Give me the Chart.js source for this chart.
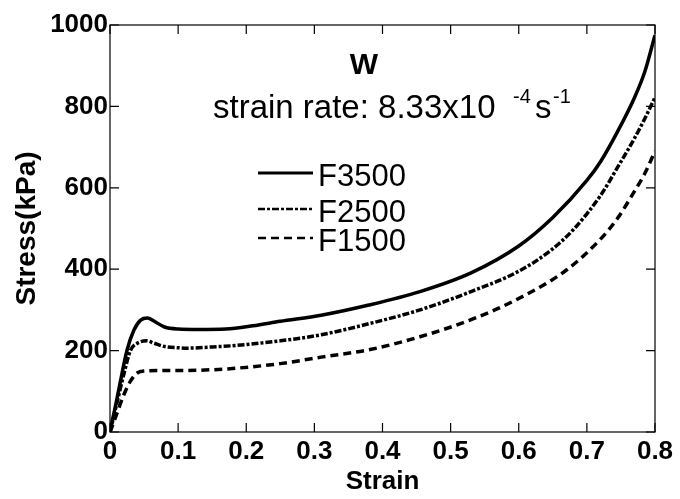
<!DOCTYPE html>
<html>
<head>
<meta charset="utf-8">
<script src="https://cdn.jsdelivr.net/npm/chart.js@4"></script>
<style>
  html, body { margin: 0; padding: 0; background: #fff; }
</style>
</head>
<body>
<canvas id="myChart" width="680" height="499"></canvas>
<script>
// strain / stress readings for each sample
const strainF3500 = [0, 0.005, 0.01, 0.015, 0.025, 0.035, 0.045, 0.055, 0.065, 0.08, 0.1, 0.13, 0.17, 0.21, 0.25, 0.31, 0.38, 0.455, 0.53, 0.6, 0.65, 0.7, 0.72, 0.745, 0.77, 0.785, 0.8];
const stressF3500 = [0, 40, 80, 122, 201, 250, 275, 280, 272, 258, 253, 252, 253, 261, 272, 287, 312, 345, 391, 457, 527, 618, 664, 738, 822, 885, 975];

const strainF2500 = [0, 0.005, 0.01, 0.02, 0.03, 0.04, 0.054, 0.065, 0.08, 0.1, 0.113, 0.15, 0.18, 0.25, 0.31, 0.38, 0.455, 0.53, 0.6, 0.646, 0.68, 0.72, 0.745, 0.77, 0.785, 0.8];
const stressF2500 = [0, 35, 70, 140, 200, 218, 224, 218, 210, 207, 206, 209, 212, 224, 239, 266, 300, 345, 395, 445, 497, 581, 650, 722, 770, 822];

const strainF1500 = [0, 0.005, 0.01, 0.02, 0.03, 0.04, 0.05, 0.07, 0.1, 0.15, 0.18, 0.25, 0.31, 0.38, 0.455, 0.53, 0.6, 0.67, 0.72, 0.745, 0.77, 0.785, 0.8];
const stressF1500 = [0, 22, 45, 90, 125, 145, 150, 151, 151, 153, 156, 168, 184, 202, 234, 276, 328, 398, 474, 525, 592, 635, 690];

const seriesNames = ['F3500', 'F2500', 'F1500'];
const xTickValues = [0, 0.1, 0.2, 0.3, 0.4, 0.5, 0.6, 0.7, 0.8];
const yTickValues = [0, 200, 400, 600, 800, 1000];

const FONT = '"Liberation Sans", Arial, sans-serif';
Chart.defaults.font.family = FONT;
Chart.defaults.color = '#000';

function toPoints(xs, ys) {
    return xs.map((v, i) => ({x: v, y: ys[i]}));
}

// frame, inward ticks, annotation text and hand drawn legend
const decorPlugin = {
    id: 'decor',
    afterDraw(chart) {
        const ctx = chart.ctx;
        const a = chart.chartArea;
        const x = chart.scales.x;
        const y = chart.scales.y;
        ctx.save();
        ctx.strokeStyle = '#000';
        ctx.lineWidth = 1.2;
        ctx.setLineDash([]);
        ctx.strokeRect(a.left, a.top, a.right - a.left, a.bottom - a.top);
        ctx.beginPath();
        xTickValues.forEach(v => {
            const px = x.getPixelForValue(v);
            ctx.moveTo(px, a.bottom); ctx.lineTo(px, a.bottom - 9);
            ctx.moveTo(px, a.top); ctx.lineTo(px, a.top + 9);
        });
        yTickValues.forEach(v => {
            const py = y.getPixelForValue(v);
            ctx.moveTo(a.left, py); ctx.lineTo(a.left + 9, py);
            ctx.moveTo(a.right, py); ctx.lineTo(a.right - 9, py);
        });
        ctx.stroke();

        ctx.fillStyle = '#000';
        ctx.textAlign = 'center';
        ctx.textBaseline = 'alphabetic';
        ctx.font = 'bold 30px ' + FONT;
        ctx.fillText('W', 364, 74);

        // strain rate line with superscripts
        ctx.textAlign = 'left';
        ctx.font = '33px ' + FONT;
        ctx.fillText('strain rate: 8.33x10', 213, 118);
        ctx.font = '20px ' + FONT;
        ctx.fillText('-4', 513, 103);
        ctx.font = '33px ' + FONT;
        ctx.fillText('s', 535, 118);
        ctx.font = '20px ' + FONT;
        ctx.fillText('-1', 553, 103);

        const legendY = [173, 209, 238];
        const textY = [186, 222, 251];
        chart.data.datasets.forEach((ds, i) => {
            ctx.beginPath();
            ctx.lineWidth = i === 0 ? 3 : 2.5;
            ctx.setLineDash(ds.borderDash || []);
            ctx.moveTo(258, legendY[i]);
            ctx.lineTo(313, legendY[i]);
            ctx.stroke();
            ctx.setLineDash([]);
            ctx.font = '31px ' + FONT;
            ctx.fillText(ds.label, 318, textY[i]);
        });
        ctx.restore();
    }
};

const ctx = document.getElementById('myChart').getContext('2d');
const chart = new Chart(ctx, {
    type: 'line',
    data: {
        datasets: [
            {label: seriesNames[0], data: toPoints(strainF3500, stressF3500), borderColor: '#000', borderWidth: 3.5, borderDash: []},
            {label: seriesNames[1], data: toPoints(strainF2500, stressF2500), borderColor: '#000', borderWidth: 3.5, borderDash: [7, 2, 3, 2]},
            {label: seriesNames[2], data: toPoints(strainF1500, stressF1500), borderColor: '#000', borderWidth: 3.5, borderDash: [8, 5]}
        ]
    },
    options: {
        responsive: false,
        animation: false,
        layout: {padding: {left: 0, right: 25, top: 25, bottom: 0}},
        elements: {
            point: {radius: 0},
            line: {cubicInterpolationMode: 'monotone'}
        },
        plugins: {
            legend: {display: false},
            tooltip: {enabled: false}
        },
        scales: {
            x: {
                type: 'linear',
                min: 0,
                max: 0.8,
                grid: {display: false, drawTicks: false},
                border: {display: false},
                afterFit: s => { s.height = 67; },
                afterBuildTicks: s => { s.ticks = xTickValues.map(v => ({value: v})); },
                ticks: {
                    padding: 4,
                    maxRotation: 0,
                    font: {size: 26, weight: 'bold'},
                    callback: v => v === 0 ? '0' : v.toFixed(1)
                },
                title: {display: true, text: 'Strain', font: {size: 26, weight: 'bold'}, padding: {top: 0, bottom: 2}}
            },
            y: {
                min: 0,
                max: 1000,
                grid: {display: false, drawTicks: false},
                border: {display: false},
                afterFit: s => { s.width = 110; },
                afterBuildTicks: s => { s.ticks = yTickValues.map(v => ({value: v})); },
                ticks: {
                    padding: 2,
                    font: {size: 26, weight: 'bold'},
                    callback: v => String(v)
                },
                title: {display: true, text: 'Stress(kPa)', font: {size: 28, weight: 'bold'}, padding: {top: 10, bottom: 0}}
            }
        }
    },
    plugins: [decorPlugin]
});
</script>
</body>
</html>
